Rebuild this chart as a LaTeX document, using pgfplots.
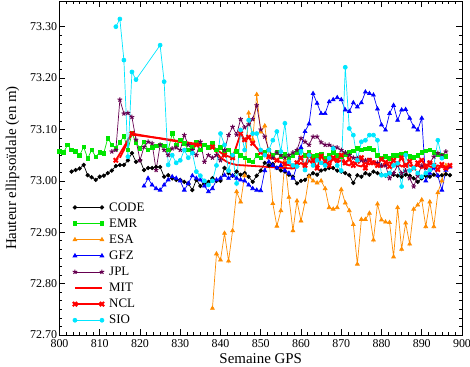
\documentclass[border=0pt]{standalone}
\usepackage{pgfplots}
\pgfplotsset{compat=1.18}
\usepackage{fontspec}
\setmainfont{Liberation Serif}
\definecolor{emr}{RGB}{0,230,0}
\definecolor{esa}{RGB}{255,140,0}
\definecolor{gfz}{RGB}{0,0,255}
\definecolor{jpl}{RGB}{102,0,80}
\definecolor{sio}{RGB}{0,230,255}
\begin{document}
\begin{tikzpicture}
\useasboundingbox (-59.5bp,-32bp) rectangle (410.5bp,335bp);
\begin{axis}[
  at={(0,0)}, anchor=south west,
  scale only axis, width=402.5bp, height=334bp,
  xmin=800, xmax=900, ymin=72.70, ymax=73.35,
  xtick={800,810,...,900},
  ytick={72.70,72.80,...,73.31},
  minor x tick num=5, minor y tick num=5,
  tick align=inside, major tick length=6bp, minor tick length=3bp,
  xtick pos=both, ytick pos=both,
  axis line style={line width=0.8pt},
  every tick/.style={black, line width=0.6pt},
  /pgf/number format/assume math mode=true,
  yticklabel style={/pgf/number format/fixed, /pgf/number format/fixed zerofill, /pgf/number format/precision=2, font=\fontsize{12}{14}\selectfont, xshift=1bp},
  xticklabel style={/pgf/number format/1000 sep={}, font=\fontsize{12}{14}\selectfont, yshift=-1.5bp},
  xlabel={Semaine GPS}, ylabel={Hauteur ellipsoïdale (en m)},
  xlabel style={font=\fontsize{15}{17}\selectfont, yshift=1bp},
  ylabel style={font=\fontsize{15}{17}\selectfont, yshift=4bp},
  legend style={draw=none, fill=none, at={(rel axis cs:0.031,0.405)}, anchor=north west, font=\fontsize{13}{15}\selectfont, row sep=2.1bp, column sep=3bp, inner sep=0.5bp},
  legend cell align=left,
  legend image code/.code={\draw[mark repeat=2, mark phase=1, #1] plot coordinates {(0bp,0bp) (13.5bp,0bp) (27bp,0bp)};},
  every axis plot/.append style={line width=0.7pt},
]
% CODE
\addplot[black, mark=*, mark size=1.8pt] coordinates {
(803,73.018)(804,73.021)(805,73.024)(806,73.031)(807,73.011)(808,73.007)(809,73.002)(810,73.008)(811,73.010)(812,73.015)(813,73.020)(814,73.029)(815,73.031)(816,73.031)(817,73.040)(818,73.054)(819,73.037)(820,73.040)(821,73.021)(822,73.025)(823,73.025)(824,73.027)(825,73.027)(826,73.008)(827,73.011)(828,73.005)(829,73.002)(830,73.002)(831,72.998)(832,72.995)(833,72.982)(834,73.002)(835,72.990)(836,72.995)(837,72.998)(838,73.005)(839,73.000)(840,73.000)(841,73.025)(842,73.015)(843,73.010)(844,73.018)(845,73.012)(846,73.015)(847,73.008)(848,72.998)(849,73.010)(850,73.020)(851,73.035)(852,73.030)(853,73.033)(854,73.025)(855,73.020)(856,73.018)(857,73.012)(858,73.008)(859,72.995)(860,73.000)(861,73.002)(862,73.010)(863,73.015)(864,73.012)(865,73.020)(866,73.022)(867,73.025)(868,73.025)(869,73.020)(870,73.018)(871,73.015)(872,73.011)(873,72.996)(874,73.011)(875,73.008)(876,73.015)(877,73.012)(878,73.018)(879,73.015)(880,73.012)(881,73.010)(882,73.015)(883,73.012)(884,73.010)(885,73.008)(886,73.012)(887,73.010)(888,73.005)(889,72.998)(890,73.005)(891,73.010)(892,73.008)(893,73.012)(894,73.010)(895,73.011)(896,73.013)(897,73.011)};
\addlegendentry{CODE}
% EMR
\addplot[emr, mark=square*, mark size=1.8pt] coordinates {
(800,73.057)(801,73.055)(802,73.070)(803,73.060)(804,73.057)(805,73.050)(806,73.066)(807,73.044)(808,73.060)(809,73.047)(810,73.055)(811,73.054)(812,73.083)(813,73.070)(814,73.063)(815,73.075)(816,73.087)(817,73.060)(818,73.092)(819,73.075)(820,73.063)(821,73.076)(822,73.060)(823,73.065)(824,73.068)(825,73.070)(826,73.068)(827,73.060)(828,73.092)(829,73.070)(830,73.080)(831,73.073)(832,73.060)(833,73.065)(834,73.076)(835,73.060)(836,73.070)(837,73.065)(838,73.073)(839,73.060)(840,73.065)(841,73.055)(842,73.060)(843,73.050)(844,73.057)(845,73.050)(846,73.045)(847,73.040)(848,73.037)(849,73.050)(850,73.045)(851,73.055)(852,73.060)(853,73.050)(854,73.055)(855,73.048)(856,73.052)(857,73.045)(858,73.050)(859,73.055)(860,73.060)(861,73.050)(862,73.055)(863,73.048)(864,73.050)(865,73.052)(866,73.045)(867,73.050)(868,73.055)(869,73.050)(870,73.048)(871,73.052)(872,73.055)(873,73.058)(874,73.063)(875,73.060)(876,73.062)(877,73.063)(878,73.060)(879,73.050)(880,73.045)(881,73.048)(882,73.044)(883,73.050)(884,73.050)(885,73.052)(886,73.054)(887,73.048)(888,73.046)(889,73.050)(890,73.055)(891,73.058)(892,73.060)(893,73.055)(894,73.052)(895,73.050)(896,73.048)};
\addlegendentry{EMR}
% ESA
\addplot[esa, mark=triangle*, mark size=2.2pt] coordinates {
(838,72.752)(839,72.858)(840,72.846)(841,72.898)(842,72.844)(843,72.903)(844,72.979)(845,72.959)(846,73.010)(847,73.132)(848,73.080)(849,73.168)(850,73.095)(851,73.107)(852,73.047)(853,72.956)(854,72.912)(855,72.942)(856,73.039)(857,72.968)(858,72.903)(859,72.961)(860,72.922)(861,72.959)(862,73.008)(863,73.000)(864,72.996)(865,73.000)(866,72.985)(867,72.948)(868,72.945)(869,72.948)(870,72.983)(871,72.957)(872,72.942)(873,72.915)(874,72.838)(875,72.925)(876,72.925)(877,72.937)(878,72.885)(879,72.955)(880,72.924)(881,72.920)(882,72.919)(883,72.852)(884,72.948)(885,72.867)(886,72.918)(887,72.877)(888,72.945)(889,72.953)(890,72.963)(891,72.911)(892,72.959)(893,72.911)(894,72.977)(895,73.000)(896,73.030)};
\addlegendentry{ESA}
% GFZ
\addplot[gfz, mark=triangle*, mark size=2.2pt] coordinates {
(821,72.990)(822,73.005)(823,72.992)(824,72.985)(825,72.982)(826,72.992)(827,73.002)(828,73.008)(829,73.005)(830,73.000)(831,72.982)(832,72.995)(833,73.010)(834,73.005)(835,73.002)(836,72.990)(837,72.979)(838,72.985)(839,73.002)(840,73.005)(841,73.011)(842,73.005)(843,73.010)(844,73.005)(845,73.002)(846,73.000)(847,72.992)(848,72.985)(849,72.982)(850,72.981)(851,73.020)(852,73.037)(853,73.030)(854,73.025)(855,73.030)(856,73.020)(857,73.015)(858,73.005)(859,73.030)(860,73.065)(861,73.096)(862,73.111)(863,73.170)(864,73.151)(865,73.131)(866,73.131)(867,73.154)(868,73.158)(869,73.162)(870,73.158)(871,73.138)(872,73.135)(873,73.152)(874,73.144)(875,73.152)(876,73.173)(877,73.170)(878,73.167)(879,73.140)(880,73.109)(881,73.099)(882,73.131)(883,73.147)(884,73.118)(885,73.138)(886,73.139)(887,73.122)(888,73.105)(889,73.099)(890,73.122)(891,73.000)(892,73.015)(893,73.025)(894,73.010)(895,72.982)(896,73.021)(897,73.027)};
\addlegendentry{GFZ}
% JPL
\addplot[jpl, mark=star, mark size=2.4pt, mark options={line width=1pt}] coordinates {
(813,73.057)(814,73.060)(815,73.158)(816,73.131)(817,73.132)(818,73.124)(819,73.080)(820,73.040)(821,73.066)(822,73.076)(823,73.073)(824,73.021)(825,73.070)(826,73.060)(827,73.050)(828,73.063)(829,73.065)(830,73.060)(831,73.089)(832,73.070)(833,73.060)(834,73.050)(835,73.076)(836,73.037)(837,73.050)(838,73.045)(839,73.050)(840,73.040)(841,73.060)(842,73.089)(843,73.105)(844,73.090)(845,73.120)(846,73.104)(847,73.110)(848,73.120)(849,73.147)(850,73.100)(851,73.086)(852,73.060)(853,73.045)(854,73.055)(855,73.050)(856,73.045)(857,73.050)(858,73.055)(859,73.060)(860,73.083)(861,73.076)(862,73.070)(863,73.086)(864,73.086)(865,73.075)(866,73.070)(867,73.070)(868,73.066)(869,73.065)(870,73.060)(871,73.055)(872,73.050)(873,73.045)(874,73.044)(875,73.040)(876,73.040)(877,73.040)(878,73.035)(879,73.035)(880,73.030)(881,73.030)(882,73.005)(883,73.015)(884,73.030)(885,73.015)(886,73.020)(887,73.005)(888,72.989)(889,73.010)(890,73.030)(891,73.025)(892,73.035)(893,73.047)(894,73.054)(895,73.050)(896,73.057)};
\addlegendentry{JPL}
% MIT
\addplot[red, no markers, line width=1.8pt, legend image post style={line width=1.8pt}] coordinates {
(815,73.045)(816,73.060)(817,73.080)(818,73.090)(820,73.088)(825,73.083)(830,73.077)(834,73.072)(838,73.066)(840,73.045)(842,73.035)(844,73.031)(846,73.030)(848,73.029)(850,73.028)(852,73.027)(854,73.026)(856,73.025)(858,73.024)(859,73.030)(860,73.035)(861,73.028)(862,73.040)(863,73.032)(864,73.045)(865,73.035)(866,73.030)(867,73.038)(868,73.042)(869,73.036)(870,73.040)(871,73.033)(872,73.030)(873,73.037)(874,73.030)(875,73.028)(876,73.035)(877,73.032)(878,73.038)(879,73.030)(880,73.027)(881,73.033)(882,73.036)(883,73.030)(884,73.034)(885,73.028)(886,73.032)(887,73.030)(888,73.027)(889,73.030)(890,73.025)(891,73.032)(892,73.028)(893,73.025)(894,73.030)(895,73.027)(896,73.024)(897,73.026)};
\addlegendentry{MIT}
% NCL
\addplot[red, mark=x, mark size=3pt, line width=1.8pt, mark options={line width=2pt}] coordinates {
(814,73.040)(818,73.092)(834,73.070)(838,73.066)(841,73.050)(843,73.045)(845,73.092)(846,73.080)(847,73.085)(848,73.073)(850,73.055)(852,73.047)(854,73.040)(856,73.033)(858,73.028)(859,73.035)(860,73.045)(861,73.030)(862,73.050)(863,73.040)(864,73.025)(865,73.048)(866,73.038)(867,73.030)(868,73.045)(869,73.040)(870,73.050)(871,73.035)(872,73.042)(873,73.030)(874,73.038)(875,73.045)(876,73.025)(877,73.040)(878,73.035)(879,73.030)(880,73.042)(881,73.036)(882,73.028)(883,73.040)(884,73.033)(885,73.045)(886,73.030)(887,73.038)(888,73.025)(889,73.035)(890,73.040)(891,73.028)(892,73.035)(893,73.030)(894,73.022)(895,73.032)(896,73.025)(897,73.030)};
\addlegendentry{NCL}
% SIO
\addplot[sio, mark=*, mark size=2pt] coordinates {
(814,73.300)(815,73.315)(816,73.235)(817,73.047)(818,73.212)(819,73.197)(825,73.264)(826,73.193)(827,73.031)(828,73.050)(829,73.035)(830,73.040)(831,73.060)(832,73.045)(833,73.054)(834,73.018)(835,73.010)(836,73.000)(837,72.992)(838,73.000)(839,73.030)(840,73.092)(841,73.070)(842,73.020)(843,73.050)(844,72.995)(845,73.099)(846,73.060)(847,73.118)(848,73.092)(849,73.092)(850,73.060)(851,73.050)(852,73.060)(853,73.079)(854,73.096)(855,73.057)(856,73.112)(857,73.037)(858,73.030)(859,73.028)(860,73.057)(861,73.021)(862,73.050)(863,73.030)(864,73.040)(865,73.035)(866,73.030)(867,73.044)(868,73.063)(869,73.030)(870,73.020)(871,73.221)(872,73.102)(873,73.089)(874,73.040)(875,73.076)(876,73.079)(877,73.089)(878,73.089)(879,73.079)(880,73.011)(881,73.011)(882,73.015)(883,73.030)(884,73.034)(885,72.989)(886,73.050)(887,73.020)(888,73.025)(889,73.015)(890,73.008)(891,73.015)(892,73.021)(893,73.030)(894,73.079)(895,73.044)};
\addlegendentry{SIO}
\end{axis}
\end{tikzpicture}
\end{document}
